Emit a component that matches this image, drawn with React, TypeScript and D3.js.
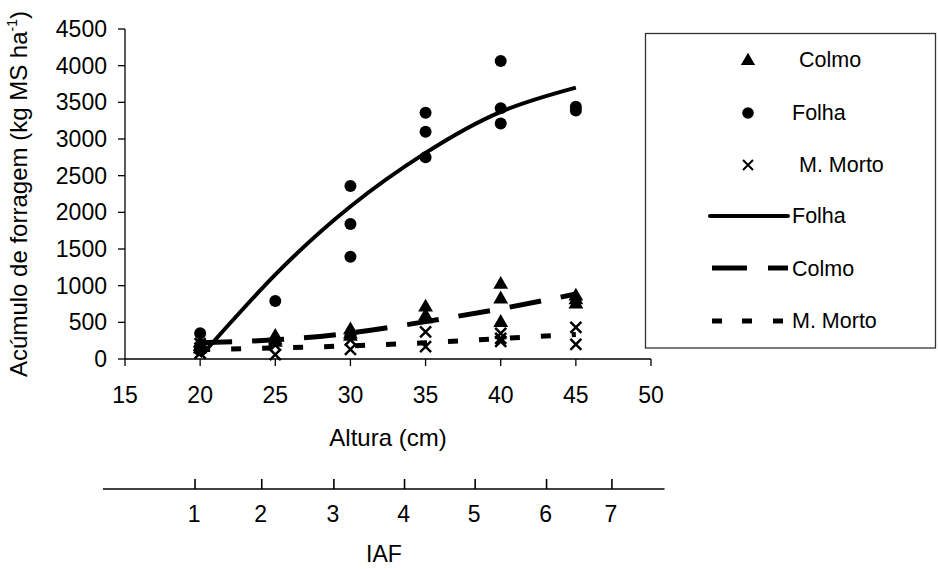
import React from "react";
import * as d3 from "d3";

const alturaTicks = [15, 20, 25, 30, 35, 40, 45, 50];
const acumTicks = [0, 500, 1000, 1500, 2000, 2500, 3000, 3500, 4000, 4500];
const iafLabels = [1, 2, 3, 4, 5, 6, 7];
// position of each IAF tick expressed on the Altura scale
const iafAltura = [19.66, 24.1, 28.9, 33.6, 38.3, 43.05, 47.4];

const colmoX = [20, 20, 20, 25, 25, 25, 30, 30, 30, 35, 35, 35, 40, 40, 40, 45, 45, 45];
const colmoY = [230, 180, 150, 320, 270, 240, 410, 350, 320, 720, 600, 560, 1030, 830, 510, 870, 820, 760];

const folhaX = [20, 20, 25, 30, 30, 30, 35, 35, 35, 40, 40, 40, 45, 45];
const folhaY = [350, 120, 790, 2360, 1840, 1395, 3358, 3099, 2750, 4064, 3418, 3210, 3440, 3390];

const mortoX = [20, 20, 20, 25, 25, 30, 30, 35, 35, 40, 40, 40, 45, 45];
const mortoY = [210, 150, 80, 190, 60, 260, 130, 370, 170, 350, 280, 240, 430, 200];

const trendX = [20, 25, 30, 35, 40, 45];
const folhaTrend = [30, 1150, 2080, 2810, 3370, 3700];
const colmoTrend = [220, 262, 355, 510, 685, 885];
const mortoTrend = [128, 150, 180, 222, 278, 335];

const W = 939;
const H = 569;
const FONT = "'Liberation Sans', Arial, sans-serif";

export default function App() {
  const x = d3.scaleLinear().domain([15, 50]).range([125, 651]);
  const y = d3.scaleLinear().domain([0, 4500]).range([359, 29]);

  const line = d3
    .line<number>()
    .x((_, i) => x(trendX[i]))
    .y((d) => y(d))
    .curve(d3.curveNatural);

  const tri = d3.symbol(d3.symbolTriangle, 95)() as string;
  const triLegend = d3.symbol(d3.symbolTriangle, 88)() as string;
  const cross = (s: number) => `M${-s},${-s}L${s},${s}M${-s},${s}L${s},${-s}`;

  const iafY = 489;
  const legendRows = [67, 120, 172, 223, 276, 328];

  return (
    <svg
      width={W}
      height={H}
      style={{ position: "absolute", left: 0, top: 0, background: "#fff" }}
      fontFamily={FONT}
    >
      <rect x={0} y={0} width={W} height={H} fill="#fff" />

      {/* Y axis */}
      <line x1={125} x2={125} y1={y(4500)} y2={y(0)} stroke="#000" strokeWidth={1.3} />
      {acumTicks.map((t) => (
        <g key={"yt" + t}>
          <line x1={118} x2={125} y1={y(t)} y2={y(t)} stroke="#000" strokeWidth={1.3} />
          <text x={107} y={y(t) + 8} textAnchor="end" fontSize={23}>
            {t}
          </text>
        </g>
      ))}

      {/* X axis */}
      <line x1={x(15)} x2={x(50)} y1={y(0)} y2={y(0)} stroke="#000" strokeWidth={1.3} />
      {alturaTicks.map((t) => (
        <g key={"xt" + t}>
          <line x1={x(t)} x2={x(t)} y1={y(0)} y2={y(0) + 7} stroke="#000" strokeWidth={1.3} />
          <text x={x(t)} y={403} textAnchor="middle" fontSize={23}>
            {t}
          </text>
        </g>
      ))}
      <text x={(x(15) + x(50)) / 2} y={446} textAnchor="middle" fontSize={24}>
        Altura (cm)
      </text>

      {/* Y title */}
      <text
        transform={`translate(27,194) rotate(-90)`}
        textAnchor="middle"
        fontSize={24}
      >
        Acúmulo de forragem (kg MS ha
        <tspan fontSize={14} dy={-10}>-1</tspan>
        <tspan dy={10}>)</tspan>
      </text>

      {/* IAF axis */}
      <line x1={x(13.53)} x2={x(50.9)} y1={iafY} y2={iafY} stroke="#000" strokeWidth={1.6} />
      {iafLabels.map((t, i) => (
        <g key={"iaf" + t}>
          <line
            x1={x(iafAltura[i])}
            x2={x(iafAltura[i])}
            y1={iafY - 10}
            y2={iafY}
            stroke="#000"
            strokeWidth={1.6}
          />
          <text x={x(iafAltura[i]) - 1} y={522} textAnchor="middle" fontSize={23}>
            {t}
          </text>
        </g>
      ))}
      <text x={384} y={562} textAnchor="middle" fontSize={23}>
        IAF
      </text>

      {/* markers */}
      {colmoX.map((v, i) => (
        <path key={"c" + i} d={tri} transform={`translate(${x(v)},${y(colmoY[i]) + 1})`} fill="#000" />
      ))}
      {folhaX.map((v, i) => (
        <circle key={"f" + i} cx={x(v)} cy={y(folhaY[i])} r={6} fill="#000" />
      ))}
      {mortoX.map((v, i) => (
        <path
          key={"m" + i}
          d={cross(5.5)}
          transform={`translate(${x(v)},${y(mortoY[i])})`}
          stroke="#000"
          strokeWidth={2.5}
          fill="none"
        />
      ))}

      {/* trend lines */}
      <path d={line(folhaTrend) as string} fill="none" stroke="#000" strokeWidth={4} />
      <path
        d={line(colmoTrend) as string}
        fill="none"
        stroke="#000"
        strokeWidth={5}
        strokeDasharray="32 20"
      />
      <path
        d={line(mortoTrend) as string}
        fill="none"
        stroke="#000"
        strokeWidth={5}
        strokeDasharray="10 21"
      />

      {/* legend */}
      <rect x={645.5} y={33.5} width={290} height={314.5} fill="#fff" stroke="#333" strokeWidth={1.3} />
      <path d={triLegend} transform={`translate(748,${legendRows[0] - 6})`} fill="#000" />
      <text x={799} y={legendRows[0]} fontSize={21.5}>Colmo</text>
      <circle cx={748} cy={legendRows[1] - 7} r={5.8} fill="#000" />
      <text x={792} y={legendRows[1]} fontSize={21.5}>Folha</text>
      <path
        d={cross(5)}
        transform={`translate(748,${legendRows[2] - 7})`}
        stroke="#000"
        strokeWidth={2}
        fill="none"
      />
      <text x={799} y={legendRows[2]} fontSize={21.5}>M. Morto</text>

      <line x1={710} x2={788} y1={legendRows[3] - 7} y2={legendRows[3] - 7} stroke="#000" strokeWidth={4} strokeLinecap="round" />
      <text x={792} y={legendRows[3]} fontSize={21.5}>Folha</text>

      <line x1={712} x2={747} y1={legendRows[4] - 8} y2={legendRows[4] - 8} stroke="#000" strokeWidth={5} />
      <line x1={768} x2={788} y1={legendRows[4] - 8} y2={legendRows[4] - 8} stroke="#000" strokeWidth={5} />
      <text x={792} y={legendRows[4]} fontSize={21.5}>Colmo</text>

      {[712, 742, 773].map((s) => (
        <line key={"md" + s} x1={s} x2={s + 10} y1={legendRows[5] - 7} y2={legendRows[5] - 7} stroke="#000" strokeWidth={5} />
      ))}
      <text x={792} y={legendRows[5]} fontSize={21.5}>M. Morto</text>
    </svg>
  );
}
